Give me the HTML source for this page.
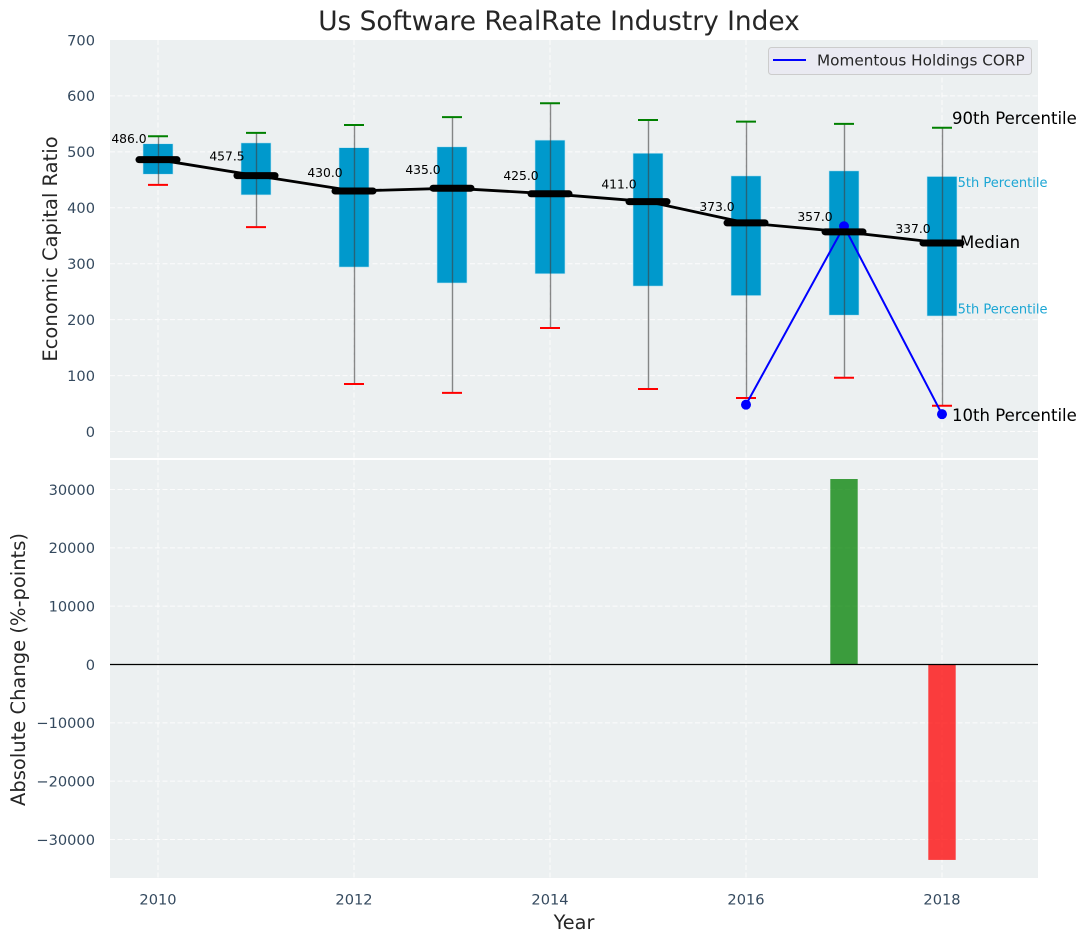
<!DOCTYPE html>
<html lang="en">
<head>
<meta charset="utf-8">
<title>Us Software RealRate Industry Index</title>
<style>
html,body{margin:0;padding:0;background:#fff;}
svg{display:block;font-family:"DejaVu Sans","Liberation Sans",sans-serif;}
</style>
</head>
<body>
<svg id="chart" xmlns="http://www.w3.org/2000/svg" width="1087" height="942" viewBox="0 0 1087 942">
  <rect x="110" y="40" width="928" height="418" fill="#ecf0f1"/>
  <rect x="110" y="460" width="928" height="418" fill="#ecf0f1"/>
  <g id="grid"></g>
  <g id="ticks"></g>
  <g id="pct-labels-under"></g>
  <g id="boxes"></g>
  <g id="company"></g>
  <g id="medians"></g>
  <g id="bars"></g>
  <g id="value-labels"></g>
  <text x="559" y="30" text-anchor="middle" font-size="26.4" fill="#262626">Us Software RealRate Industry Index</text>
  <text transform="translate(57,249) rotate(-90)" text-anchor="middle" font-size="19.5" fill="#262626">Economic Capital Ratio</text>
  <text transform="translate(25,669.5) rotate(-90)" text-anchor="middle" font-size="19.5" fill="#262626">Absolute Change (%-points)</text>
  <text x="574" y="929" text-anchor="middle" font-size="19.3" fill="#262626">Year</text>
  <text x="952" y="124" font-size="16.55" fill="#000">90th Percentile</text>
  <text x="960" y="248" font-size="16.55" fill="#000">Median</text>
  <text x="952" y="421" font-size="16.55" fill="#000">10th Percentile</text>
  <g>
    <rect x="768.5" y="47.5" width="263" height="27" rx="3" fill="#eaeaf2" stroke="#cccccc" stroke-width="1"/>
    <line x1="773" y1="60" x2="806" y2="60" stroke="#0000ff" stroke-width="2"/>
    <text x="817" y="65.5" font-size="15.25" fill="#262626">Momentous Holdings CORP</text>
  </g>
</svg>
<script>
const years = [2010, 2011, 2012, 2013, 2014, 2015, 2016, 2017, 2018];
const p90 = [528, 534, 548, 562, 587, 557, 554, 550, 543];
const p75 = [514.5, 516, 507.5, 509, 521, 497.5, 457, 466, 456];
const medians = [486, 457.5, 430, 435, 425, 411, 373, 357, 337];
const p25 = [460, 423, 294, 265.5, 282, 260, 243, 208, 206.5];
const p10 = [441, 365.5, 85, 69, 185, 76, 60, 96, 46];
const companyYears = [2016, 2017, 2018];
const companyValues = [48, 367, 31];
const changeYears = [2017, 2018];
const changeValues = [31800, -33500];
const xTicks = [2010, 2012, 2014, 2016, 2018];
const topTicks = [0, 100, 200, 300, 400, 500, 600, 700];
const bottomTicks = [-30000, -20000, -10000, 0, 10000, 20000, 30000];

const NS = 'http://www.w3.org/2000/svg';
const xScale = v => 158 + (v - 2010) * 98;
const yTop = v => 431.5 - v * (391.5 / 700);
const yBottom = v => 664.5 - v * (350 / 60000);
const tickText = v => String(v).replace('-', '\u2212');

function make(parentId, tag, attrs, text) {
  const el = document.createElementNS(NS, tag);
  Object.keys(attrs).forEach(k => el.setAttribute(k, attrs[k]));
  if (text !== undefined) el.textContent = text;
  document.getElementById(parentId).appendChild(el);
  return el;
}

const gridStyle = {stroke: '#ffffff', 'stroke-width': 1, 'stroke-dasharray': '5 2.5', opacity: 0.85};

xTicks.forEach(v => {
  const x = xScale(v);
  const a = make('grid', 'line', Object.assign({x1: x, x2: x, y1: 40, y2: 458}, gridStyle));
  
  
  const b = make('grid', 'line', Object.assign({x1: x, x2: x, y1: 460, y2: 878}, gridStyle));
  
  
  const t = make('ticks', 'text', {x: x, y: 904.5, 'text-anchor': 'middle', 'font-size': 14.6, fill: '#34495e'}, tickText(v));
  
  
});

topTicks.forEach(v => {
  const y = yTop(v);
  if (v < 700) {
    const l = make('grid', 'line', Object.assign({x1: 110, x2: 1038, y1: y, y2: y}, gridStyle));
    
    
  }
  const t = make('ticks', 'text', {x: 95, y: y + 5.3, 'text-anchor': 'end', 'font-size': 14.6, fill: '#34495e'}, tickText(v));
  
  
});

bottomTicks.forEach(v => {
  const y = yBottom(v);
  const l = make('grid', 'line', Object.assign({x1: 110, x2: 1038, y1: y, y2: y}, gridStyle));
  
  
  const t = make('ticks', 'text', {x: 95, y: y + 5.3, 'text-anchor': 'end', 'font-size': 14.6, fill: '#34495e'}, tickText(v));
  
  
});

const lastIndex = years.length - 1;
const p75Label = make('pct-labels-under', 'text', {x: 1047.5, y: yTop(p75[lastIndex]) + 10.5, 'text-anchor': 'end', 'font-size': 13, fill: '#1ca6d4'}, '75th Percentile');


const p25Label = make('pct-labels-under', 'text', {x: 1047.5, y: yTop(p25[lastIndex]) - 2.5, 'text-anchor': 'end', 'font-size': 13, fill: '#1ca6d4'}, '25th Percentile');



years.forEach((yr, i) => {
  const x = xScale(yr);
  const box = make('boxes', 'rect', {
    x: x - 15, y: yTop(p75[i]), width: 30, height: yTop(p25[i]) - yTop(p75[i]),
    fill: '#0099cc', stroke: '#bfe5f2', 'stroke-width': 0.6
  });
  
  
  const whisker = make('boxes', 'line', {
    x1: x + 0.5, x2: x + 0.5, y1: yTop(p90[i]), y2: yTop(p10[i]),
    stroke: '#404040', 'stroke-opacity': 0.6, 'stroke-width': 1.4
  });
  
  
  const capHigh = make('boxes', 'line', {x1: x - 10, x2: x + 10, y1: yTop(p90[i]), y2: yTop(p90[i]), stroke: '#008000', 'stroke-width': 2});
  
  
  const capLow = make('boxes', 'line', {x1: x - 10, x2: x + 10, y1: yTop(p10[i]), y2: yTop(p10[i]), stroke: '#ff0000', 'stroke-width': 2});
  
  
});

const companyPoints = companyYears.map((yr, i) => xScale(yr) + ',' + yTop(companyValues[i])).join(' ');
const companyLine = make('company', 'polyline', {points: companyPoints, fill: 'none', stroke: '#0000ff', 'stroke-width': 2});


companyYears.forEach((yr, i) => {
  const dot = make('company', 'circle', {cx: xScale(yr), cy: yTop(companyValues[i]), r: 5, fill: '#0000ff'});
  
  
});

const medianPoints = years.map((yr, i) => xScale(yr) + ',' + yTop(medians[i])).join(' ');
const medianLine = make('medians', 'polyline', {points: medianPoints, fill: 'none', stroke: '#000000', 'stroke-width': 2.8});


years.forEach((yr, i) => {
  const x = xScale(yr);
  const y = yTop(medians[i]);
  const bar = make('medians', 'line', {x1: x - 19, x2: x + 19, y1: y, y2: y, stroke: '#000000', 'stroke-width': 7, 'stroke-linecap': 'round'});
  
  
  const label = make('value-labels', 'text', {x: x - 29, y: yTop(medians[i] * 1.078) + 4.6, 'text-anchor': 'middle', 'font-size': 12.35, fill: '#000000'}, medians[i].toFixed(1));
  
  
});

changeYears.forEach((yr, i) => {
  const v = changeValues[i];
  const y0 = yBottom(0);
  const y1 = yBottom(v);
  const bar = make('bars', 'rect', {
    x: xScale(yr) - 13.7, y: Math.min(y0, y1), width: 27.4, height: Math.abs(y1 - y0),
    fill: v >= 0 ? '#008000' : '#ff0000', 'fill-opacity': 0.75
  });
  
  
});
const zeroLine = make('bars', 'line', {x1: 110, x2: 1038, y1: yBottom(0), y2: yBottom(0), stroke: '#000000', 'stroke-width': 1.3});


</script>
</body>
</html>
